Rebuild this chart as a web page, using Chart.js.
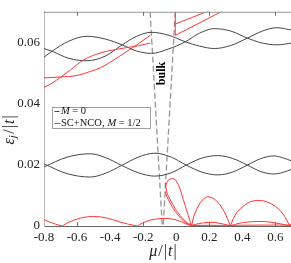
<!DOCTYPE html>
<html><head><meta charset="utf-8">
<script src="https://cdn.jsdelivr.net/npm/chart.js@4.4.0/dist/chart.umd.min.js"></script>
<style>
html,body{margin:0;padding:0;overflow:hidden;background:#fff;width:291px;height:263px}
#wrap{position:relative;width:292px;height:263px}
canvas{display:block}
</style></head>
<body><div id="wrap"><canvas id="c" width="292" height="263"></canvas></div>
<script>
// ---- tick labels ----
const X_TICK_VALUES = [-0.8,-0.6,-0.4,-0.2,0,0.2,0.4,0.6];
const X_TICK_LABELS = ['-0.8','-0.6','-0.4','-0.2','0','0.2','0.4','0.6'];
const Y_TICK_VALUES = [0,0.02,0.04,0.06];
const Y_TICK_LABELS = ['0','0.02','0.04','0.06'];
const X_INNER_TICKS = [-0.6,-0.2,0.2,0.6];

// ---- M = 0 (black) : two pairs of oscillating levels ----
const LOW_MU   = [-0.80,-0.66,-0.52,-0.43,-0.33,-0.23,-0.13,-0.03,0.06,0.155,0.25,0.34,0.43,0.51,0.59,0.65,0.70];
const M0_LOW_A = [0.0193,0.0225,0.0236,0.0224,0.0198,0.0174,0.0163,0.0174,0.0199,0.0222,0.0230,0.0221,0.0199,0.0178,0.0170,0.0176,0.0186];
const M0_LOW_B = [0.0203,0.0171,0.0160,0.0172,0.0198,0.0225,0.0238,0.0225,0.0199,0.0176,0.0167,0.0176,0.0199,0.0220,0.0229,0.0222,0.0212];
const UP_MU    = [-0.80,-0.752,-0.65,-0.54,-0.43,-0.327,-0.24,-0.15,-0.05,0.055,0.14,0.23,0.33,0.43,0.52,0.61,0.70];
const M0_UP_A  = [0.0580,0.0571,0.0548,0.0540,0.0555,0.0592,0.0620,0.0633,0.0624,0.0602,0.0588,0.0580,0.0590,0.0614,0.0637,0.0648,0.0640];
const M0_UP_B  = [0.0552,0.0571,0.0604,0.0620,0.0611,0.0592,0.0572,0.0564,0.0578,0.0602,0.0630,0.0645,0.0637,0.0614,0.0598,0.0592,0.0598];

// ---- SC+NCO, M = 1/2 (red) : [mu, eps] pairs ----
const RED_UP_1 = [[-0.80,0.0453],[-0.75,0.0467],[-0.70,0.0486],[-0.64,0.0510],[-0.56,0.0543],[-0.49,0.0560],[-0.42,0.0571],[-0.30,0.0583],[-0.23,0.0589],[-0.158,0.0598]];
const RED_UP_2 = [[-0.80,0.0484],[-0.70,0.0487],[-0.60,0.0492],[-0.52,0.0505],[-0.46,0.0517],[-0.40,0.0535],[-0.34,0.0556],[-0.28,0.0577],[-0.22,0.0599],[-0.158,0.0623]];
const RED_UP_3 = [[-0.006,0.0623],[0.30,0.0708]];
const RED_UP_4 = [[-0.006,0.0660],[0.22,0.0708]];
const RED_UP_5 = [[-0.006,0.0623],[-0.006,0.0710]];
const RED_LOW_LEFT = [[-0.80,0.0021],[-0.77,0.0014],[-0.73,0.0006],[-0.69,0],[-0.66,0.0010],[-0.62,0.0019],[-0.58,0.0026],[-0.54,0.0030],[-0.50,0.0031],[-0.46,0.0030],[-0.42,0.0026],[-0.38,0.0020],[-0.34,0.0013],[-0.29,0.0006],[-0.236,0],[-0.20,0.0011],[-0.16,0.0019],[-0.12,0.0023],[-0.08,0.0025],[-0.04,0.0024],[0.0,0.0020],[0.03,0.0014],[0.06,0.0007],[0.09,0]];
const RED_ARCHES = [[-0.067,0.0127],[-0.058,0.0142],[-0.048,0.0150],[-0.033,0.0154],[-0.018,0.0155],[-0.003,0.0150],[0.012,0.0136],[0.027,0.0114],[0.042,0.0087],[0.058,0.0060],[0.073,0.0034],[0.085,0.0012],[0.092,0],
  [0.105,0.0030],[0.125,0.0057],[0.145,0.0076],[0.165,0.0089],[0.19,0.0096],[0.215,0.0093],[0.24,0.0084],[0.265,0.0069],[0.29,0.0047],[0.31,0.0024],[0.327,0],
  [0.345,0.0024],[0.365,0.0043],[0.39,0.0058],[0.42,0.0071],[0.45,0.0080],[0.49,0.0084],[0.53,0.0082],[0.57,0.0074],[0.60,0.0064],[0.63,0.0050],[0.655,0.0032],[0.675,0.0012],[0.685,0],[0.70,0.0012]];
const RED_DECAY_1 = [[-0.067,0.0140],[-0.06,0.0118],[-0.05,0.0100],[-0.036,0.0085],[-0.02,0.0070],[-0.006,0.0056],[0.01,0.0044],[0.024,0.0034],[0.04,0.0024],[0.055,0.0016],[0.075,0.0008],[0.097,0.0003],[0.15,0]];
const RED_DECAY_2 = [[-0.067,0.0113],[-0.058,0.0098],[-0.045,0.0083],[-0.03,0.0068],[-0.015,0.0054],[0.0,0.0043],[0.015,0.0033],[0.03,0.0024],[0.045,0.0016],[0.065,0.0008],[0.085,0.0003],[0.13,0]];
const RED_LOW_RIGHT = [[0.09,0],[0.12,0.0006],[0.16,0.0010],[0.20,0.0012],[0.24,0.0011],[0.28,0.0007],[0.31,0.0003],[0.327,0],[0.36,0.0006],[0.40,0.0011],[0.45,0.0014],[0.50,0.0015],[0.55,0.0014],[0.60,0.0010],[0.64,0.0006],[0.685,0],[0.70,0.0003]];
const RED_FLAT = [[0.10,0.0002],[0.30,0.0002],[0.50,0.0003],[0.70,0.0003]];

// ---- bulk band edges (dashed) ----
const BULK_LEFT  = [[-0.158,0.070],[-0.085,0]];
const BULK_RIGHT = [[-0.006,0.070],[-0.079,0]];

const BLACK = 'rgb(70,70,70)';
const RED = 'rgb(255,55,55)';

const zipXY = (xs, ys) => xs.map((x, i) => ({x, y: ys[i]}));
const pairs = a => a.map(p => ({x: p[0], y: p[1]}));

const black = (d) => ({data: d, borderColor: BLACK, borderWidth: 1, pointRadius: 0, cubicInterpolationMode: 'monotone', order: 2});
const red = (d, smooth) => ({data: d, borderColor: RED, borderWidth: 1, pointRadius: 0,
  cubicInterpolationMode: smooth ? 'monotone' : 'default', tension: 0, order: 1});
const dashed = (d) => ({data: d, borderColor: 'rgb(150,150,150)', borderWidth: 1.3, borderDash: [6,3], pointRadius: 0, tension: 0, order: 3});

const SERIF = "'Liberation Serif', 'DejaVu Serif', serif";

const decor = {
  id: 'decor',
  afterDraw(chart) {
    const {ctx, chartArea: a, scales: {x, y}} = chart;
    ctx.save();
    // top border
    ctx.strokeStyle = 'rgb(150,150,150)';
    ctx.lineWidth = 1;
    ctx.beginPath(); ctx.moveTo(a.left, a.top + 0.5); ctx.lineTo(a.right, a.top + 0.5); ctx.stroke();
    // inward ticks
    ctx.strokeStyle = 'rgb(110,110,110)';
    X_INNER_TICKS.forEach(v => {
      const px = Math.round(x.getPixelForValue(v)) + 0.5;
      ctx.beginPath(); ctx.moveTo(px, a.bottom); ctx.lineTo(px, a.bottom - 4); ctx.stroke();
      ctx.beginPath(); ctx.moveTo(px, a.top); ctx.lineTo(px, a.top + 4); ctx.stroke();
    });

    // legend
    const lx = 52.5, ly = 107.5, lw = 98, lh = 21;
    ctx.fillStyle = '#fff'; ctx.fillRect(lx, ly, lw, lh);
    ctx.strokeStyle = 'rgb(160,160,160)'; ctx.lineWidth = 1; ctx.strokeRect(lx, ly, lw, lh);
    const drawRun = (runs, x0, yc) => {
      let cx = x0;
      runs.forEach(r => {
        ctx.font = (r.it ? 'italic ' : '') + '10.5px ' + SERIF;
        ctx.fillStyle = '#111';
        ctx.textBaseline = 'middle';
        ctx.textAlign = 'left';
        cx += (r.pre || 0);
        ctx.fillText(r.t, cx, yc);
        cx += ctx.measureText(r.t).width + (r.post || 0);
      });
    };
    ctx.lineWidth = 1;
    ctx.strokeStyle = BLACK;
    ctx.beginPath(); ctx.moveTo(54.5, 111.5); ctx.lineTo(59.5, 111.5); ctx.stroke();
    drawRun([{t:'M', it:true}, {t:'=', pre:2.5, post:2.5}, {t:'0'}], 61, 111.5);
    ctx.strokeStyle = RED;
    ctx.beginPath(); ctx.moveTo(54.5, 123.5); ctx.lineTo(60.5, 123.5); ctx.stroke();
    drawRun([{t:'SC+NCO,', post:3}, {t:'M', it:true}, {t:'=', pre:2.5, post:2.5}, {t:'1/2'}], 61, 123.5);

    // bulk label
    ctx.save();
    ctx.translate(162, 73.5);
    ctx.rotate(-Math.PI/2);
    ctx.font = 'bold 12px ' + SERIF;
    ctx.fillStyle = '#000';
    ctx.textAlign = 'center'; ctx.textBaseline = 'middle';
    ctx.fillText('bulk', 0, 0);
    ctx.restore();

    // x title  mu/|t|
    const drawMath = (pieces, size) => {
      let w = 0;
      pieces.forEach(p => { ctx.font = (p.it ? 'italic ' : '') + (p.s || size) + 'px ' + SERIF; w += ctx.measureText(p.t).width + (p.g || 0); });
      let cx = -w / 2;
      pieces.forEach(p => {
        ctx.font = (p.it ? 'italic ' : '') + (p.s || size) + 'px ' + SERIF;
        ctx.fillStyle = '#222';
        ctx.textAlign = 'left'; ctx.textBaseline = 'middle';
        ctx.fillText(p.t, cx, p.dy || 0);
        cx += ctx.measureText(p.t).width + (p.g || 0);
      });
    };
    ctx.save();
    ctx.translate(163, 252);
    drawMath([{t:'μ', it:true, g:1}, {t:'/', g:1}, {t:'|', g:1}, {t:'t', it:true, g:1}, {t:'|'}], 16);
    ctx.restore();
    // y title eps_j/|t|
    ctx.save();
    ctx.translate(10, 130);
    ctx.rotate(-Math.PI/2);
    drawMath([{t:'ε', it:true}, {t:'j', it:true, s:11, dy:3, g:1.5}, {t:'/', g:1}, {t:'|', g:1}, {t:'t', it:true, g:1}, {t:'|'}], 16);
    ctx.restore();
    ctx.restore();
  }
};

new Chart(document.getElementById('c'), {
  type: 'line',
  data: {
    datasets: [
      dashed(pairs(BULK_LEFT)), dashed(pairs(BULK_RIGHT)),
      black(zipXY(LOW_MU, M0_LOW_A)), black(zipXY(LOW_MU, M0_LOW_B)),
      black(zipXY(UP_MU, M0_UP_A)), black(zipXY(UP_MU, M0_UP_B)),
      red(pairs(RED_UP_1), true), red(pairs(RED_UP_2), true),
      red(pairs(RED_UP_3)), red(pairs(RED_UP_4)), red(pairs(RED_UP_5)),
      red(pairs(RED_LOW_LEFT)), red(pairs(RED_ARCHES)),
      red(pairs(RED_DECAY_1), true), red(pairs(RED_DECAY_2), true),
      red(pairs(RED_LOW_RIGHT)), red(pairs(RED_FLAT))
    ]
  },
  options: {
    responsive: false, animation: false, devicePixelRatio: 1,
    layout: {padding: {top: 1, left: 0, right: 0, bottom: 0}},
    plugins: {legend: {display: false}, tooltip: {enabled: false}},
    elements: {line: {borderCapStyle: 'butt'}},
    scales: {
      x: {
        type: 'linear', min: -0.8, max: 0.7,
        afterFit: s => { s.height = 37; },
        afterBuildTicks: s => { s.ticks = X_TICK_VALUES.map(v => ({value: v})); },
        ticks: {callback: (v, i) => X_TICK_LABELS[i], font: {family: SERIF, size: 13}, color: '#222', padding: 4, maxRotation: 0, autoSkip: false},
        grid: {drawOnChartArea: false, drawTicks: false},
        border: {display: true, color: 'rgb(100,100,100)', width: 1}
      },
      y: {
        type: 'linear', min: 0, max: 0.07,
        afterFit: s => { s.width = 44; },
        afterBuildTicks: s => { s.ticks = Y_TICK_VALUES.map(v => ({value: v})); },
        ticks: {callback: (v, i) => Y_TICK_LABELS[i], font: {family: SERIF, size: 13}, color: '#222', padding: 4},
        grid: {drawOnChartArea: false, drawTicks: false},
        border: {display: true, color: 'rgb(185,185,185)', width: 1}
      }
    }
  },
  plugins: [decor]
});
</script>
</body></html>
